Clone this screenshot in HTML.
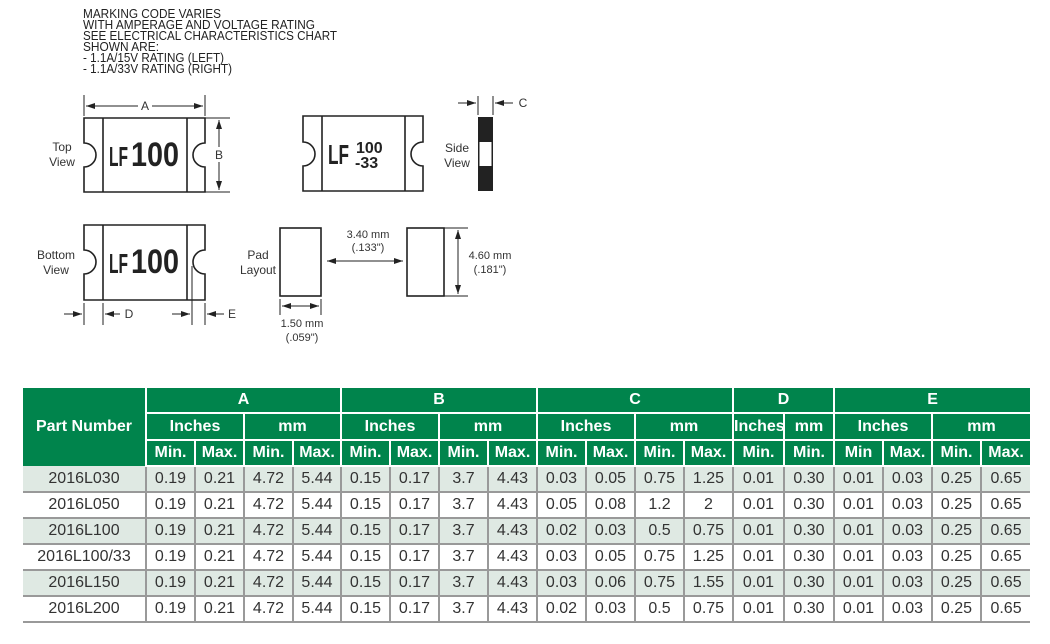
<!DOCTYPE html>
<html><head><meta charset="utf-8"><style>
body{margin:0;width:1050px;height:644px;background:#fff;position:relative;overflow:hidden;font-family:"Liberation Sans",sans-serif}
svg{position:absolute;left:0;top:0}
table{position:absolute;left:23px;top:388px;border-collapse:collapse;table-layout:fixed;width:1007px}
td{padding:0;text-align:center;overflow:hidden;white-space:nowrap}
.h td{background:#00844c;color:#fff;font-weight:bold;font-size:16px;border:2px solid #fff;border-top:none}
.h td:first-child{border-left:none}
.h td:last-child{border-right:none}
.d td{font-size:16px;color:#333;border-left:2px solid #999;border-bottom:2px solid #999;height:24px}
.d td:first-child{border-left:none}
.s td{background:#dfe9e3}
</style></head><body>
<svg width="1050" height="380" viewBox="0 0 1050 380" font-family="Liberation Sans, sans-serif" fill="#222">
<g font-size="12.5">
<text x="83" y="18" textLength="138" lengthAdjust="spacingAndGlyphs">MARKING CODE VARIES</text>
<text x="83" y="29" textLength="232" lengthAdjust="spacingAndGlyphs">WITH AMPERAGE AND VOLTAGE RATING</text>
<text x="83" y="40" textLength="254" lengthAdjust="spacingAndGlyphs">SEE ELECTRICAL CHARACTERISTICS CHART</text>
<text x="83" y="51" textLength="76" lengthAdjust="spacingAndGlyphs">SHOWN ARE:</text>
<text x="83" y="62" textLength="141" lengthAdjust="spacingAndGlyphs">- 1.1A/15V RATING (LEFT)</text>
<text x="83" y="73" textLength="149" lengthAdjust="spacingAndGlyphs">- 1.1A/33V RATING (RIGHT)</text>
</g>
<defs>
<marker id="ar" markerWidth="10" markerHeight="8" refX="9" refY="4" orient="auto-start-reverse" markerUnits="userSpaceOnUse"><path d="M0,1 L9,4 L0,7 Z" fill="#222"/></marker>
</defs>
<g stroke="#222" stroke-width="1.6" fill="none">
<path d="M84,118 H205 V143 A12,12 0 0 0 205,167 V192 H84 V167 A12,12 0 0 0 84,143 Z"/>
<line x1="103" y1="118" x2="103" y2="192"/><line x1="187" y1="118" x2="187" y2="192"/>
<path d="M303,116 H423 V142 A12,12 0 0 0 423,166 V191 H303 V166 A12,12 0 0 0 303,142 Z"/>
<line x1="322" y1="116" x2="322" y2="191"/><line x1="405" y1="116" x2="405" y2="191"/>
<path d="M84,225 H205 V250 A12,12 0 0 0 205,274 V300 H84 V274 A12,12 0 0 0 84,250 Z"/>
<line x1="103" y1="225" x2="103" y2="300"/><line x1="187" y1="225" x2="187" y2="300"/>
<rect x="280" y="228" width="41" height="68"/><rect x="407" y="228" width="37" height="68"/>
</g>
<g stroke="#222" stroke-width="1">
<line x1="84" y1="95" x2="84" y2="116"/><line x1="205" y1="95" x2="205" y2="116"/>
<line x1="86" y1="106" x2="138" y2="106" marker-start="url(#ar)"/><line x1="152" y1="106" x2="203" y2="106" marker-end="url(#ar)"/>
<line x1="205" y1="118" x2="230" y2="118"/><line x1="205" y1="192" x2="230" y2="192"/>
<line x1="219" y1="120" x2="219" y2="147" marker-start="url(#ar)"/><line x1="219" y1="162" x2="219" y2="190" marker-end="url(#ar)"/>
<line x1="478" y1="96" x2="478" y2="115"/><line x1="493" y1="96" x2="493" y2="115"/>
<line x1="458" y1="103" x2="476" y2="103" marker-end="url(#ar)"/><line x1="513" y1="103" x2="495" y2="103" marker-end="url(#ar)"/>
<line x1="84" y1="303" x2="84" y2="325"/><line x1="103" y1="303" x2="103" y2="325"/>
<line x1="64" y1="314" x2="82" y2="314" marker-end="url(#ar)"/><line x1="120" y1="314" x2="105" y2="314" marker-end="url(#ar)"/>
<line x1="192" y1="266" x2="192" y2="325"/><line x1="205" y1="303" x2="205" y2="325"/>
<line x1="172" y1="314" x2="190" y2="314" marker-end="url(#ar)"/><line x1="224" y1="314" x2="207" y2="314" marker-end="url(#ar)"/>
<line x1="327" y1="261" x2="403" y2="261" marker-start="url(#ar)" marker-end="url(#ar)"/>
<line x1="444" y1="228" x2="468" y2="228"/><line x1="444" y1="296" x2="468" y2="296"/>
<line x1="458" y1="230" x2="458" y2="294" marker-start="url(#ar)" marker-end="url(#ar)"/>
<line x1="280" y1="299" x2="280" y2="315"/><line x1="321" y1="299" x2="321" y2="315"/>
<line x1="282" y1="306" x2="319" y2="306" marker-start="url(#ar)" marker-end="url(#ar)"/>
</g>
<rect x="478" y="117" width="15" height="74" fill="#222"/>
<rect x="479.5" y="142" width="12" height="24" fill="#fff"/>
<g font-size="12" text-anchor="middle" fill="#333">
<text x="145" y="110">A</text><text x="219" y="159">B</text><text x="523" y="107">C</text>
<text x="129" y="318">D</text><text x="232" y="318">E</text>
<text x="62" y="151">Top</text><text x="62" y="166">View</text>
<text x="457" y="152">Side</text><text x="457" y="167">View</text>
<text x="56" y="259">Bottom</text><text x="56" y="274">View</text>
<text x="258" y="259">Pad</text><text x="258" y="274">Layout</text>
<text x="368" y="238" font-size="11">3.40 mm</text><text x="368" y="251" font-size="11">(.133")</text>
<text x="490" y="259" font-size="11">4.60 mm</text><text x="490" y="273" font-size="11">(.181")</text>
<text x="302" y="327" font-size="11">1.50 mm</text><text x="302" y="341" font-size="11">(.059")</text>
</g>
<g font-weight="bold" fill="#222">
<text x="109" y="166" font-size="28" textLength="19" lengthAdjust="spacingAndGlyphs">LF</text>
<text x="131" y="166" font-size="34" textLength="48" lengthAdjust="spacingAndGlyphs">100</text>
<text x="109" y="273" font-size="28" textLength="19" lengthAdjust="spacingAndGlyphs">LF</text>
<text x="131" y="273" font-size="34" textLength="48" lengthAdjust="spacingAndGlyphs">100</text>
<text x="328" y="164" font-size="28" textLength="21" lengthAdjust="spacingAndGlyphs">LF</text>
<text x="356" y="153" font-size="16">100</text>
<text x="355" y="168" font-size="16">-33</text>
</g>
</svg>
<table>
<colgroup><col style="width:123px"><col style="width:49px"><col style="width:49px"><col style="width:49px"><col style="width:48px"><col style="width:49px"><col style="width:49px"><col style="width:49px"><col style="width:49px"><col style="width:49px"><col style="width:49px"><col style="width:49px"><col style="width:49px"><col style="width:51px"><col style="width:50px"><col style="width:49px"><col style="width:49px"><col style="width:49px"><col style="width:49px"></colgroup>
<tr class="h" style="height:25px"><td rowspan="3" style="border-bottom:none">Part Number</td><td colspan="4">A</td><td colspan="4">B</td><td colspan="4">C</td><td colspan="2">D</td><td colspan="4">E</td></tr>
<tr class="h" style="height:27px"><td colspan="2">Inches</td><td colspan="2">mm</td><td colspan="2">Inches</td><td colspan="2">mm</td><td colspan="2">Inches</td><td colspan="2">mm</td><td>Inches</td><td>mm</td><td colspan="2">Inches</td><td colspan="2">mm</td></tr>
<tr class="h" style="height:26px"><td>Min.</td><td>Max.</td><td>Min.</td><td>Max.</td><td>Min.</td><td>Max.</td><td>Min.</td><td>Max.</td><td>Min.</td><td>Max.</td><td>Min.</td><td>Max.</td><td>Min.</td><td>Min.</td><td>Min</td><td>Max.</td><td>Min.</td><td>Max.</td></tr>
<tr class="d s"><td>2016L030</td><td>0.19</td><td>0.21</td><td>4.72</td><td>5.44</td><td>0.15</td><td>0.17</td><td>3.7</td><td>4.43</td><td>0.03</td><td>0.05</td><td>0.75</td><td>1.25</td><td>0.01</td><td>0.30</td><td>0.01</td><td>0.03</td><td>0.25</td><td>0.65</td></tr>
<tr class="d"><td>2016L050</td><td>0.19</td><td>0.21</td><td>4.72</td><td>5.44</td><td>0.15</td><td>0.17</td><td>3.7</td><td>4.43</td><td>0.05</td><td>0.08</td><td>1.2</td><td>2</td><td>0.01</td><td>0.30</td><td>0.01</td><td>0.03</td><td>0.25</td><td>0.65</td></tr>
<tr class="d s"><td>2016L100</td><td>0.19</td><td>0.21</td><td>4.72</td><td>5.44</td><td>0.15</td><td>0.17</td><td>3.7</td><td>4.43</td><td>0.02</td><td>0.03</td><td>0.5</td><td>0.75</td><td>0.01</td><td>0.30</td><td>0.01</td><td>0.03</td><td>0.25</td><td>0.65</td></tr>
<tr class="d"><td>2016L100/33</td><td>0.19</td><td>0.21</td><td>4.72</td><td>5.44</td><td>0.15</td><td>0.17</td><td>3.7</td><td>4.43</td><td>0.03</td><td>0.05</td><td>0.75</td><td>1.25</td><td>0.01</td><td>0.30</td><td>0.01</td><td>0.03</td><td>0.25</td><td>0.65</td></tr>
<tr class="d s"><td>2016L150</td><td>0.19</td><td>0.21</td><td>4.72</td><td>5.44</td><td>0.15</td><td>0.17</td><td>3.7</td><td>4.43</td><td>0.03</td><td>0.06</td><td>0.75</td><td>1.55</td><td>0.01</td><td>0.30</td><td>0.01</td><td>0.03</td><td>0.25</td><td>0.65</td></tr>
<tr class="d"><td>2016L200</td><td>0.19</td><td>0.21</td><td>4.72</td><td>5.44</td><td>0.15</td><td>0.17</td><td>3.7</td><td>4.43</td><td>0.02</td><td>0.03</td><td>0.5</td><td>0.75</td><td>0.01</td><td>0.30</td><td>0.01</td><td>0.03</td><td>0.25</td><td>0.65</td></tr>
</table>
</body></html>
